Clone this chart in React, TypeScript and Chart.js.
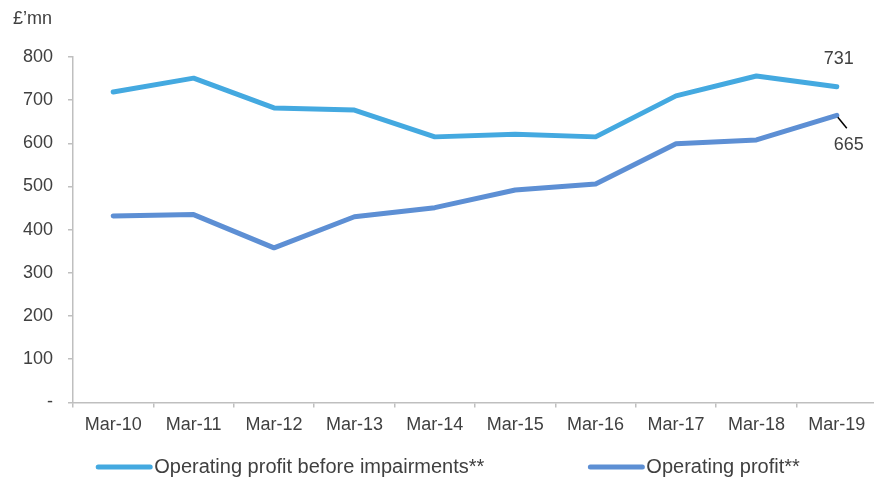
import React, { useEffect, useRef } from "react";
import { Chart, registerables } from "chart.js";

Chart.register(...registerables);

const categories = ["Mar-10", "Mar-11", "Mar-12", "Mar-13", "Mar-14", "Mar-15", "Mar-16", "Mar-17", "Mar-18", "Mar-19"];
const beforeImpairments = [719, 751, 682, 677, 615, 621, 615, 710, 756, 731];
const operatingProfit = [432, 435, 358, 430, 451, 492, 506, 599, 608, 665];
const seriesNames = ["Operating profit before impairments**", "Operating profit**"];
const yTickValues = [0, 100, 200, 300, 400, 500, 600, 700, 800];
const unitLabel = "£’mn";

const FONT = "'Liberation Sans', Arial, sans-serif";
const TEXT = "#404040";
const AXIS = "#BFBFBF";
const C1 = "#44A9E0";
const C2 = "#5D8FD4";

const annotationPlugin = {
  id: "annotations",
  afterDatasetsDraw(chart: any) {
    const ctx = chart.ctx;
    const x = chart.scales.x;
    const y = chart.scales.y;
    const last = categories.length - 1;
    ctx.save();
    ctx.font = `18px ${FONT}`;
    ctx.fillStyle = TEXT;
    ctx.textAlign = "center";
    ctx.textBaseline = "middle";
    const px = x.getPixelForValue(last);
    const p1 = y.getPixelForValue(beforeImpairments[last]);
    ctx.fillText(String(beforeImpairments[last]), px + 2, p1 - 28);
    const p2 = y.getPixelForValue(operatingProfit[last]);
    ctx.fillText(String(operatingProfit[last]), px + 12, p2 + 30);
    ctx.strokeStyle = "#000000";
    ctx.lineWidth = 1.5;
    ctx.beginPath();
    ctx.moveTo(px + 1, p2 + 2);
    ctx.lineTo(px + 10, p2 + 13);
    ctx.stroke();
    // unit label
    ctx.textAlign = "left";
    ctx.fillText(unitLabel, 13, 19);
    ctx.restore();
  },
  afterDraw(chart: any) {
    const ctx = chart.ctx;
    ctx.save();
    ctx.font = `20px ${FONT}`;
    const lineW = 56;
    const gapText = 2;
    const gapItems = 104;
    const widths = chart.data.datasets.map((d: any) => ctx.measureText(d.label).width);
    const total = widths.reduce((a: number, w: number) => a + lineW + gapText + w, 0) + gapItems * (widths.length - 1);
    let cx = chart.width / 2 + 8 - total / 2;
    const cy = 467;
    chart.data.datasets.forEach((d: any, i: number) => {
      ctx.strokeStyle = d.borderColor;
      ctx.lineWidth = 5;
      ctx.lineCap = "round";
      ctx.beginPath();
      ctx.moveTo(cx + 2, cy);
      ctx.lineTo(cx + lineW - 2, cy);
      ctx.stroke();
      ctx.fillStyle = TEXT;
      ctx.textAlign = "left";
      ctx.textBaseline = "middle";
      ctx.fillText(d.label, cx + lineW + gapText, cy);
      cx += lineW + gapText + widths[i] + gapItems;
    });
    ctx.restore();
  },
};

export default function App() {
  const ref = useRef<HTMLCanvasElement>(null);
  useEffect(() => {
    if (!ref.current) return;
    const chart = new Chart(ref.current, {
      type: "line",
      data: {
        labels: categories,
        datasets: [
          {
            label: seriesNames[0],
            data: beforeImpairments,
            borderColor: C1,
            backgroundColor: C1,
            borderWidth: 5,
            pointRadius: 0,
            tension: 0,
            borderCapStyle: "round",
            borderJoinStyle: "round",
          },
          {
            label: seriesNames[1],
            data: operatingProfit,
            borderColor: C2,
            backgroundColor: C2,
            borderWidth: 5,
            pointRadius: 0,
            tension: 0,
            borderCapStyle: "round",
            borderJoinStyle: "round",
          },
        ],
      },
      options: {
        animation: false,
        responsive: true,
        maintainAspectRatio: false,
        layout: { padding: { top: 57, right: 3, bottom: 46, left: 0 } },
        plugins: {
          legend: { display: false },
          tooltip: { enabled: false },
        },
        scales: {
          x: {
            offset: true,
            grid: { offset: true, drawOnChartArea: false, tickLength: 5, color: AXIS, lineWidth: 1.5 },
            border: { color: AXIS, width: 1.5 },
            ticks: { color: TEXT, font: { family: FONT, size: 18 }, padding: 7, maxRotation: 0, autoSkip: false },
          },
          y: {
            min: 0,
            max: 800,
            afterBuildTicks(scale: any) {
              scale.ticks = yTickValues.map((v) => ({ value: v }));
            },
            afterFit(scale: any) {
              scale.width = 73;
            },
            grid: { drawOnChartArea: false, tickLength: 5, color: AXIS, lineWidth: 1.5 },
            border: { color: AXIS, width: 1.5 },
            ticks: {
              color: TEXT,
              font: { family: FONT, size: 18 },
              padding: 15,
              callback: (v: any) => (Number(v) === 0 ? "-" : String(v)),
            },
          },
        },
      },
      plugins: [annotationPlugin],
    });
    return () => chart.destroy();
  }, []);
  return (
    <div style={{ position: "absolute", left: 0, top: 0, width: 874, height: 489, overflow: "hidden", background: "#fff" }}>
      <div style={{ position: "relative", width: 880, height: 489 }}>
        <canvas ref={ref} />
      </div>
    </div>
  );
}
